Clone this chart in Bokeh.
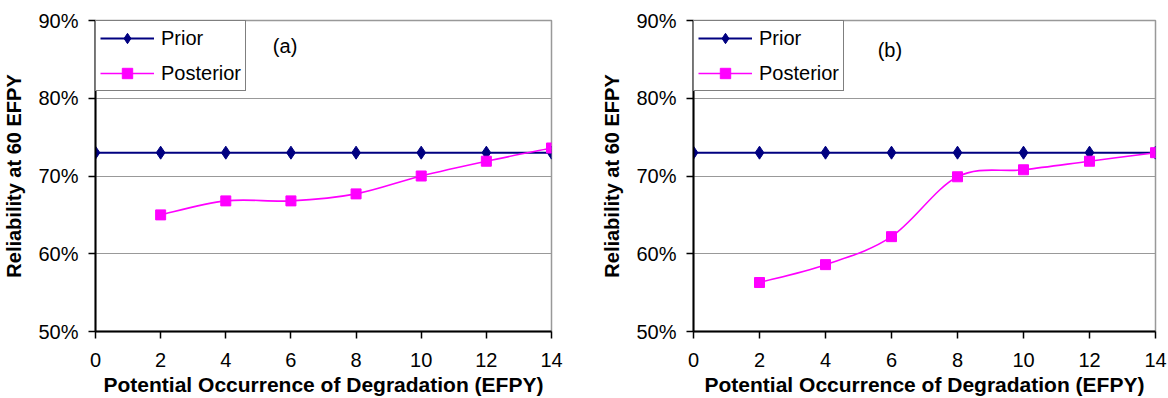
from bokeh.plotting import figure
from bokeh.layouts import row
from bokeh.models import Range1d, FixedTicker, NumeralTickFormatter, Legend, LegendItem, Label
from bokeh.embed import file_html
from bokeh.resources import INLINE

# ---- data ----
efpy = [0, 2, 4, 6, 8, 10, 12, 14]
prior_a = [0.73, 0.73, 0.73, 0.73, 0.73, 0.73, 0.73, 0.73]
post_x = [2, 4, 6, 8, 10, 12, 14]
post_a = [0.650, 0.668, 0.668, 0.677, 0.700, 0.719, 0.736]
prior_b = [0.73, 0.73, 0.73, 0.73, 0.73, 0.73, 0.73, 0.73]
post_b = [0.563, 0.586, 0.622, 0.699, 0.708, 0.719, 0.730]
x_ticks = [0, 2, 4, 6, 8, 10, 12, 14]
y_ticks = [0.5, 0.6, 0.7, 0.8, 0.9]
panel_tags = ["(a)", "(b)"]

FONT = "Liberation Sans"
NAVY = "#000080"
MAGENTA = "#FF00FF"
GRID = "#999999"


def smooth_segments(xs, ys):
    """Bezier control points (Catmull-Rom style, like a spreadsheet 'smoothed line')."""
    n = len(xs)
    x0, y0, x1, y1, cx0, cy0, cx1, cy1 = [], [], [], [], [], [], [], []
    for i in range(n - 1):
        ip = max(i - 1, 0)
        inn = min(i + 2, n - 1)
        x0.append(xs[i]); y0.append(ys[i])
        x1.append(xs[i + 1]); y1.append(ys[i + 1])
        cx0.append(xs[i] + (xs[i + 1] - xs[ip]) / 6.0)
        cy0.append(ys[i] + (ys[i + 1] - ys[ip]) / 6.0)
        cx1.append(xs[i + 1] - (xs[inn] - xs[i]) / 6.0)
        cy1.append(ys[i + 1] - (ys[inn] - ys[i]) / 6.0)
    return dict(x0=x0, y0=y0, x1=x1, y1=y1, cx0=cx0, cy0=cy0, cx1=cx1, cy1=cy1)


def make_panel(prior, post, tag, width, b_left, b_right, b_top, b_bottom, tag_x, tag_y, legend_loc):
    p = figure(width=width, height=398, output_backend="svg", toolbar_location=None,
               x_range=Range1d(0, 14), y_range=Range1d(0.5, 0.9),
               min_border_left=b_left, min_border_right=b_right,
               min_border_top=b_top, min_border_bottom=b_bottom)
    p.background_fill_color = "white"
    p.border_fill_color = "white"
    p.outline_line_color = GRID
    p.outline_line_width = 1.5

    p.xgrid.visible = False
    p.ygrid.ticker = FixedTicker(ticks=y_ticks)
    p.ygrid.grid_line_color = GRID
    p.ygrid.grid_line_width = 1

    for ax in (p.xaxis[0], p.yaxis[0]):
        ax.axis_line_color = "black"
        ax.axis_line_width = 2
        ax.major_tick_line_color = "black"
        ax.major_tick_line_width = 1.5
        ax.major_tick_out = 7
        ax.major_tick_in = 0
        ax.minor_tick_out = 0
        ax.minor_tick_in = 0
        ax.major_label_text_font = FONT
        ax.major_label_text_font_size = "20px"
        ax.major_label_text_color = "black"
        ax.axis_label_text_font = FONT
        ax.axis_label_text_font_style = "bold"
        ax.axis_label_text_color = "black"

    p.xaxis.axis_label_text_font_size = "21px"
    p.yaxis.axis_label_text_font_size = "20px"
    p.xaxis.ticker = FixedTicker(ticks=x_ticks)
    p.yaxis.ticker = FixedTicker(ticks=y_ticks)
    p.yaxis.formatter = NumeralTickFormatter(format="0%")
    p.xaxis.axis_label = "Potential Occurrence of Degradation (EFPY)"
    p.yaxis.axis_label = "Reliability at 60 EFPY"
    p.xaxis.major_label_standoff = 14
    p.xaxis.axis_label_standoff = 3
    p.yaxis.major_label_standoff = 10
    p.yaxis.axis_label_standoff = 10

    # Prior
    r_prior_line = p.line(efpy, prior, line_color=NAVY, line_width=2)
    r_prior_pts = p.scatter(efpy, prior, marker="diamond", size=13,
                            fill_color=NAVY, line_color=NAVY)

    # Posterior (smoothed)
    seg = smooth_segments(post_x, post)
    r_post_line = p.bezier(x0="x0", y0="y0", x1="x1", y1="y1", cx0="cx0", cy0="cy0",
                           cx1="cx1", cy1="cy1", source=seg, line_color=MAGENTA, line_width=1.6)
    r_post_pts = p.scatter(post_x, post, marker="square", size=10,
                           fill_color=MAGENTA, line_color=MAGENTA)

    legend = Legend(items=[
        LegendItem(label="Prior", renderers=[r_prior_line, r_prior_pts]),
        LegendItem(label="Posterior", renderers=[r_post_line, r_post_pts]),
    ], location=legend_loc, margin=0)
    legend.border_line_color = "black"
    legend.border_line_width = 1
    legend.background_fill_color = "white"
    legend.background_fill_alpha = 1
    legend.label_text_font = FONT
    legend.label_text_font_size = "20px"
    legend.label_text_color = "black"
    legend.glyph_width = 54
    legend.glyph_height = 26
    legend.label_height = 26
    legend.label_standoff = 7
    legend.padding = 4
    legend.spacing = 9
    p.add_layout(legend)

    p.add_layout(Label(x=tag_x, y=tag_y, text=tag, text_font=FONT, text_font_size="20px",
                       text_align="center", text_baseline="middle", text_color="black"))
    return p


pa = make_panel(prior_a, post_a, panel_tags[0], 590, 95, 39, 18, 64, 5.82, 0.867, "top_left")
pb = make_panel(prior_b, post_b, panel_tags[1], 578, 103, 13, 20, 66, 5.95, 0.862, (0, 240))

layout = row(pa, pb)
open("out.html", "w").write(file_html(layout, INLINE))
